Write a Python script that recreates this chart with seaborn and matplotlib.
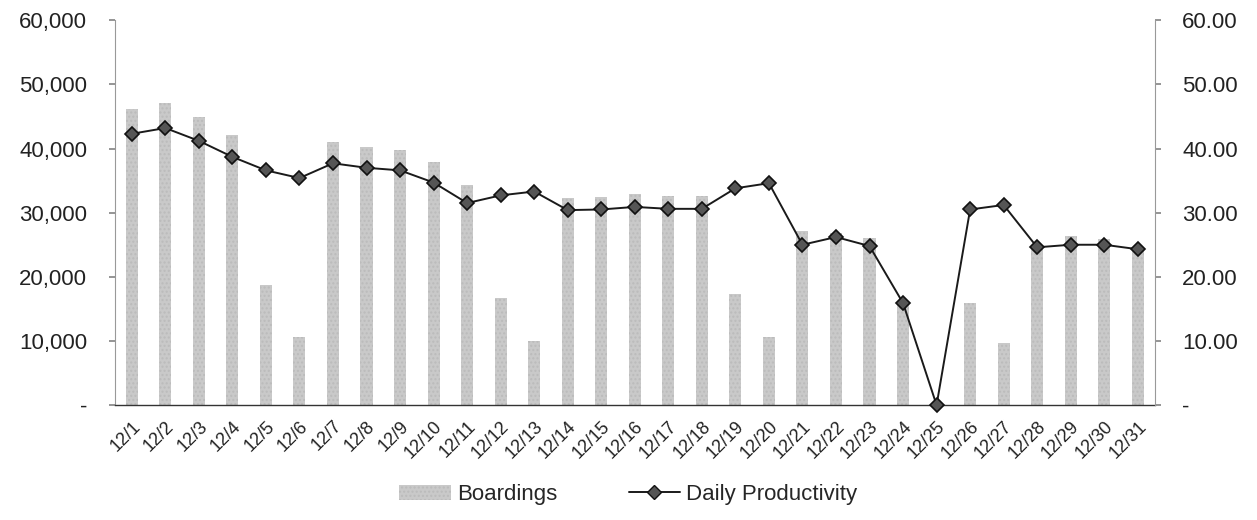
import numpy as np
import pandas as pd
import matplotlib
matplotlib.use("Agg")
import matplotlib.pyplot as plt
import matplotlib.ticker as mticker
from matplotlib.lines import Line2D
from matplotlib.patches import Patch
import seaborn as sns

# data
days = [f"12/{d}" for d in range(1, 32)]
boardings = [46200, 47100, 44950, 42100, 18750, 10580, 41000, 40200, 39750, 37900,
             34300, 16700, 10050, 32300, 32450, 32950, 32550, 32550, 17350, 10600,
             27200, 26850, 26050, 15650, 0, 15900, 9650, 24750, 26400, 25900, 24500]
productivity = [42.3, 43.2, 41.2, 38.7, 36.6, 35.4, 37.7, 37.0, 36.6, 34.7,
                31.5, 32.7, 33.3, 30.4, 30.5, 30.9, 30.6, 30.6, 33.8, 34.6,
                25.0, 26.2, 24.8, 15.9, 0.0, 30.5, 31.2, 24.6, 25.0, 25.0, 24.3]

df = pd.DataFrame({"day": days, "Boardings": boardings, "Daily Productivity": productivity})

sns.set_theme(style="white")
plt.rcParams["font.family"] = ["Liberation Sans", "DejaVu Sans"]

fig = plt.figure(figsize=(12.57, 5.2), dpi=100)
ax = fig.add_axes([0.0915, 0.221, 0.827, 0.74])

bar_color = "#c9c9c9"
sns.barplot(data=df, x="day", y="Boardings", color=bar_color, saturation=1,
            width=0.36, ax=ax, hatch="....", edgecolor="#bbbbbb", linewidth=0)

ax.set_ylim(0, 60000)
ax.set_xlim(-0.5, len(days) - 0.5)
ax.yaxis.set_major_locator(mticker.MultipleLocator(10000))
ax.yaxis.set_major_formatter(mticker.FuncFormatter(
    lambda v, p: "-" if v == 0 else f"{v:,.0f}"))
ax.tick_params(axis="y", labelsize=16, length=4, color="#888888", direction="out",
               left=True, pad=16, labelcolor="#222222")
ax.tick_params(axis="x", labelsize=13, length=0, pad=9, labelcolor="#222222")
plt.setp(ax.get_xticklabels(), rotation=45, ha="right", rotation_mode="anchor")
ax.set_xlabel("")
ax.set_ylabel("")
for s in ["top", "right"]:
    ax.spines[s].set_visible(False)
ax.spines["left"].set_color("#999999")
ax.spines["left"].set_linewidth(0.8)
ax.spines["bottom"].set_color("#333333")
ax.spines["bottom"].set_linewidth(1.0)

ax2 = ax.twinx()
sns.lineplot(data=df, x="day", y="Daily Productivity", ax=ax2, color="#1a1a1a",
             linewidth=1.4, marker="D", markersize=7.5, markerfacecolor="#555555",
             markeredgecolor="#111111", markeredgewidth=1.2, sort=False)
ax2.set_ylim(0, 60)
ax2.yaxis.set_major_locator(mticker.MultipleLocator(10))
ax2.yaxis.set_major_formatter(mticker.FuncFormatter(
    lambda v, p: "-" if v == 0 else f"{v:.2f}"))
ax2.tick_params(axis="y", labelsize=16, length=4, color="#888888", direction="out",
                right=True, pad=16, labelcolor="#222222")
ax2.set_ylabel("")
ax2.set_xlabel("")
for s in ["top", "left", "bottom"]:
    ax2.spines[s].set_visible(False)
ax2.spines["right"].set_color("#999999")
ax2.spines["right"].set_linewidth(0.8)
for ln in ax2.lines:
    ln.set_clip_on(False)

handles = [Patch(facecolor=bar_color, hatch="....", edgecolor="#bbbbbb", linewidth=0),
           Line2D([], [], color="#1a1a1a", linewidth=1.4, marker="D", markersize=7,
                  markerfacecolor="#555555", markeredgecolor="#111111")]
fig.legend(handles, ["Boardings", "Daily Productivity"], loc="lower center",
           bbox_to_anchor=(0.5, -0.01), ncol=2, frameon=False, fontsize=16,
           handlelength=2.3, columnspacing=3.2, handletextpad=0.3)

fig.savefig("out.png", dpi=100)
